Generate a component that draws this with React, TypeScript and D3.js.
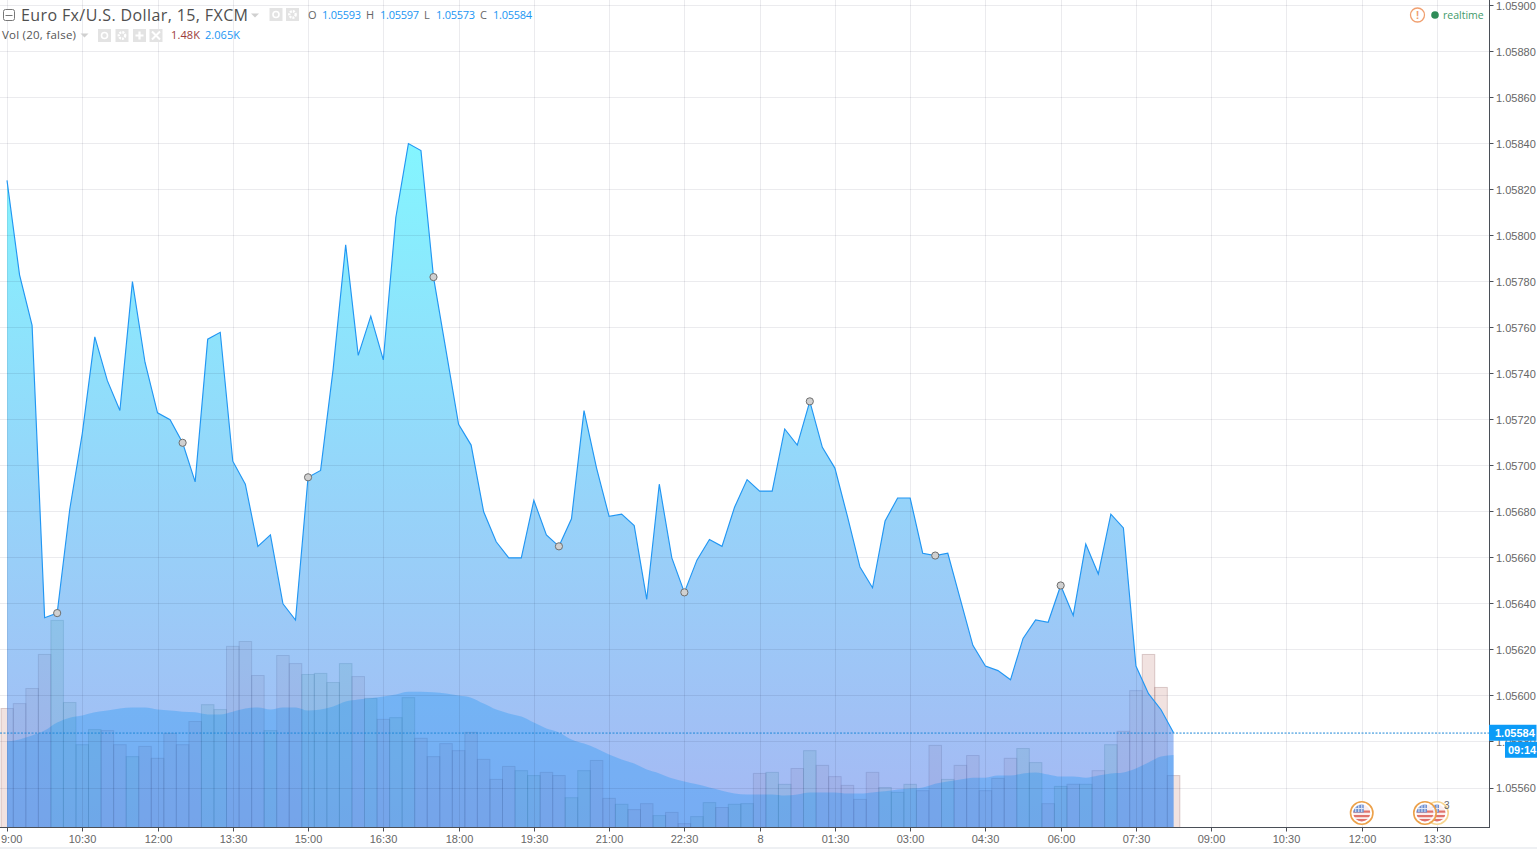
import React from "react";
import * as d3 from "d3";

const closes = [
  1.05824, 1.05783, 1.05761, 1.05634, 1.05636, 1.05681, 1.05714, 1.05756, 1.05737, 1.05724,
  1.0578, 1.05745, 1.05723, 1.0572, 1.0571, 1.05693, 1.05755, 1.05758, 1.05702, 1.05692,
  1.05665, 1.0567, 1.0564, 1.05633, 1.05695, 1.05698, 1.05742, 1.05796, 1.05748, 1.05765,
  1.05746, 1.05808, 1.0584, 1.05837, 1.05782, 1.0575, 1.05718, 1.05709, 1.0568, 1.05667,
  1.0566, 1.0566, 1.05685, 1.0567, 1.05665, 1.05677, 1.05724, 1.05699, 1.05678, 1.05679,
  1.05674, 1.05642, 1.05692, 1.0566, 1.05645, 1.05659, 1.05668, 1.05665, 1.05682, 1.05694,
  1.05689, 1.05689, 1.05716, 1.05709, 1.05728, 1.05708, 1.05699, 1.05678, 1.05656, 1.05647,
  1.05676, 1.05686, 1.05686, 1.05662, 1.05661, 1.05662, 1.05642, 1.05622, 1.05613, 1.05611,
  1.05607, 1.05625, 1.05633, 1.05632, 1.05648, 1.05635, 1.05666, 1.05653, 1.05679, 1.05673,
  1.05613, 1.05601, 1.05594, 1.05584,
];

const volumes = [
  3.39, 3.53, 3.96, 4.93, 5.9, 3.56, 2.36, 2.79, 2.76, 2.36,
  2.02, 2.31, 1.97, 2.68, 2.36, 3.02, 3.5, 3.36, 5.16, 5.3,
  4.33, 2.76, 4.9, 4.67, 4.36, 4.39, 4.13, 4.67, 4.3, 3.68,
  3.08, 3.13, 3.7, 2.54, 2.02, 2.39, 2.19, 2.71, 1.94, 1.37,
  1.74, 1.62, 1.48, 1.57, 1.48, 0.85, 1.62, 1.91, 0.83, 0.66,
  0.51, 0.68, 0.34, 0.43, 0.11, 0.31, 0.71, 0.57, 0.66, 0.68,
  1.54, 1.57, 1.23, 1.68, 2.19, 1.77, 1.45, 1.2, 0.8, 1.57,
  1.14, 1.0, 1.23, 1.05, 2.34, 1.37, 1.77, 2.05, 1.05, 1.4,
  1.97, 2.25, 1.85, 0.68, 1.17, 1.23, 1.23, 1.62, 2.36, 2.74,
  3.9, 4.93, 3.99, 1.48,
];

const volumeMA = [
  2.45, 2.51, 2.62, 2.76, 2.99, 3.13, 3.19, 3.28, 3.33, 3.39,
  3.42, 3.42, 3.36, 3.33, 3.3, 3.28, 3.22, 3.22, 3.3, 3.39,
  3.42, 3.36, 3.42, 3.42, 3.33, 3.36, 3.45, 3.59, 3.65, 3.68,
  3.73, 3.79, 3.87, 3.87, 3.85, 3.82, 3.76, 3.7, 3.53, 3.36,
  3.25, 3.16, 2.99, 2.82, 2.71, 2.51, 2.39, 2.25, 2.08, 1.94,
  1.82, 1.65, 1.54, 1.4, 1.31, 1.23, 1.14, 1.05, 0.97, 0.94,
  0.94, 0.94, 0.91, 0.94, 1.0, 1.0, 1.0, 0.97, 0.97, 1.0,
  1.03, 1.08, 1.11, 1.14, 1.25, 1.31, 1.37, 1.42, 1.42, 1.48,
  1.48, 1.54, 1.57, 1.51, 1.45, 1.45, 1.42, 1.48, 1.54, 1.57,
  1.68, 1.85, 2.02, 2.065,
];

const timeLabels = [
  "9:00", "10:30", "12:00", "13:30", "15:00", "16:30", "18:00", "19:30", "21:00", "22:30",
  "8", "01:30", "03:00", "04:30", "06:00", "07:30", "09:00", "10:30", "12:00", "13:30",
];
const barsPerTick = 6;

const priceTicks = [
  1.059, 1.0588, 1.0586, 1.0584, 1.0582, 1.058, 1.0578, 1.0576, 1.0574, 1.0572, 1.057, 1.0568,
  1.0566, 1.0564, 1.0562, 1.056, 1.0558, 1.0556,
];

const eventMarks = [108, 113, 114];
const lastPrice = 1.05584;
const markerEvery = 10;

const W = 1537;
const H = 849;
const plotRight = 1489.5;
const plotBottom = 827.5;

const x = d3.scaleLinear().domain([0, 114]).range([7, 1437]);
const y = d3.scaleLinear().domain([1.0556, 1.059]).range([788, 5.5]);
const yVol = d3.scaleLinear().domain([0, 1]).range([plotBottom, plotBottom - 35.1]);

const areaPath = d3
  .area<number>()
  .x((_, i) => x(i))
  .y0(plotBottom)
  .y1((d) => y(d))(closes)!;
const linePath = d3
  .line<number>()
  .x((_, i) => x(i))
  .y((d) => y(d))(closes)!;
const maPath = d3
  .area<number>()
  .x((_, i) => x(i))
  .y0(plotBottom)
  .y1((d) => yVol(d))
  .curve(d3.curveMonotoneX)(volumeMA)!;

const axisFont = "'Liberation Sans', Arial, sans-serif";
const headFont = "'Open Sans', 'Noto Sans', sans-serif";
const blue = "#2196f3";

function Bars({ fills, strokes }: { fills: [string, string]; strokes: [string, string] }) {
  return (
    <g>
      {volumes.map((v, i) => {
        const up = i > 0 && closes[i] >= closes[i - 1];
        const half = (x(1) - x(0)) / 2;
        const left = Math.max(x(i) - half, 1);
        return (
          <rect
            key={i}
            x={left}
            y={yVol(v)}
            width={x(i) + half - left}
            height={plotBottom - yVol(v)}
            fill={up ? fills[0] : fills[1]}
            stroke={up ? strokes[0] : strokes[1]}
            strokeWidth={1}
          />
        );
      })}
    </g>
  );
}

function IconBox({ x: bx, y: by, kind }: { x: number; y: number; kind: string }) {
  const s = 13;
  const cx = bx + s / 2;
  const cy = by + s / 2;
  return (
    <g>
      <rect x={bx} y={by} width={s} height={s} fill="#e3e3e3" />
      {kind === "eye" && <circle cx={cx} cy={cy} r={3} fill="none" stroke="#fff" strokeWidth={1.6} />}
      {kind === "gear" && <circle cx={cx} cy={cy} r={3.2} fill="none" stroke="#fff" strokeWidth={2.4} strokeDasharray="2 1" />}
      {kind === "plus" && <path d={`M${cx - 4} ${cy}H${cx + 4}M${cx} ${cy - 4}V${cy + 4}`} stroke="#fff" strokeWidth={2.2} />}
      {kind === "x" && <path d={`M${cx - 4} ${cy - 4}L${cx + 4} ${cy + 4}M${cx + 4} ${cy - 4}L${cx - 4} ${cy + 4}`} stroke="#fff" strokeWidth={2} />}
    </g>
  );
}

function Flag({ cx, ring, id, wash }: { cx: number; ring: string; id: string; wash: number }) {
  const cy = 813;
  return (
    <g>
      <clipPath id={id}>
        <circle cx={cx} cy={cy} r={8.5} />
      </clipPath>
      <circle cx={cx} cy={cy} r={11.2} fill="#fff" fillOpacity={wash} stroke={ring} strokeWidth={1.6} />
      <g clipPath={`url(#${id})`}>
        <rect x={cx - 9} y={cy - 9} width={18} height={18} fill="#fbeeee" />
        <rect x={cx - 9} y={cy - 2.5} width={18} height={2.2} fill="#e0736c" />
        <rect x={cx - 9} y={cy + 2} width={18} height={2.2} fill="#e0736c" />
        <rect x={cx - 9} y={cy + 6} width={18} height={3} fill="#e0736c" />
        <rect x={cx - 9} y={cy - 9} width={11} height={8.5} fill="#6f8fd0" />
        <path d={`M${cx - 6} ${cy - 9}V${cy - 1}M${cx - 3} ${cy - 9}V${cy - 1}M${cx} ${cy - 9}V${cy - 1}M${cx - 9} ${cy - 4.5}H${cx + 2}`} stroke="#dfe7f7" strokeWidth={1} />
      </g>
    </g>
  );
}

export default function App() {
  return (
    <svg
      width={W}
      height={H}
      viewBox={`0 0 ${W} ${H}`}
      style={{ position: "absolute", left: 0, top: 0, background: "#fff" }}
    >
      <defs>
        <linearGradient id="priceFill" gradientUnits="userSpaceOnUse" x1={0} x2={0} y1={144} y2={plotBottom}>
          <stop offset="0" stopColor="rgb(101,243,255)" stopOpacity={0.8} />
          <stop offset="0.5" stopColor="rgb(123,202,248)" stopOpacity={0.8} />
          <stop offset="1" stopColor="rgb(143,166,240)" stopOpacity={0.8} />
        </linearGradient>
        <clipPath id="underPrice">
          <path d={areaPath} />
        </clipPath>
      </defs>

      <Bars
        fills={["rgba(70,170,100,0.28)", "rgba(172,82,70,0.17)"]}
        strokes={["rgba(40,110,90,0.25)", "rgba(110,50,50,0.22)"]}
      />

      <path d={areaPath} fill="url(#priceFill)" />
      <path d={maPath} fill="rgba(33,150,243,0.34)" />

      <g clipPath="url(#underPrice)">
        <Bars
          fills={["rgba(60,170,130,0.045)", "rgba(130,70,110,0.03)"]}
          strokes={["rgba(30,80,110,0.08)", "rgba(40,60,110,0.08)"]}
        />
      </g>

      {priceTicks.map((p) => (
        <line key={p} x1={0} x2={plotRight} y1={Math.floor(y(p)) + 0.5} y2={Math.floor(y(p)) + 0.5} stroke="rgba(0,0,40,0.08)" />
      ))}
      {timeLabels.map((_, i) => {
        const tx = Math.round(x(i * barsPerTick)) + 0.5;
        return <line key={i} x1={tx} x2={tx} y1={0} y2={plotBottom} stroke="rgba(0,0,40,0.08)" />;
      })}

      <path d={linePath} fill="none" stroke={blue} strokeWidth={1.15} strokeLinejoin="miter" />

      {closes.map((c, i) =>
        i % markerEvery === 4 ? (
          <circle key={i} cx={x(i)} cy={y(c)} r={3.6} fill="#d0d0d0" stroke="#6f6f6f" strokeWidth={1} />
        ) : null
      )}

      <line x1={0} x2={plotRight} y1={y(lastPrice) + 0.3} y2={y(lastPrice) + 0.3} stroke="#1e88d8" strokeWidth={1} strokeDasharray="2 1.5" />

      {/* axes */}
      <line x1={0} x2={plotRight} y1={plotBottom} y2={plotBottom} stroke="#4a4f57" strokeWidth={1} />
      <line x1={plotRight} x2={plotRight} y1={0} y2={plotBottom + 0.5} stroke="#4a4f57" strokeWidth={1} />
      {timeLabels.map((t, i) => {
        const tx = Math.round(x(i * barsPerTick)) + 0.5;
        return (
          <g key={i}>
            <line x1={tx} x2={tx} y1={plotBottom} y2={plotBottom + 4} stroke="#4a4f57" />
            <text
              x={i === 0 ? 1 : tx}
              y={843}
              textAnchor={i === 0 ? "start" : "middle"}
              fontFamily={axisFont}
              fontSize={11}
              fill="#666"
            >
              {t}
            </text>
          </g>
        );
      })}
      {priceTicks.map((p) => (
        <g key={p}>
          <line x1={plotRight} x2={plotRight + 4} y1={Math.floor(y(p)) + 0.5} y2={Math.floor(y(p)) + 0.5} stroke="#4a4f57" />
          <text x={1496} y={y(p) + 4} fontFamily={axisFont} fontSize={11} fill="#666">
            {p.toFixed(5)}
          </text>
        </g>
      ))}

      <rect x={plotRight - 0.5} y={y(lastPrice) - 8} width={W - plotRight} height={16} fill="#0c9bf7" />
      <text x={1495} y={y(lastPrice) + 4} fontFamily={axisFont} fontSize={11} fontWeight={700} fill="#fff">
        {lastPrice.toFixed(5)}
      </text>
      <rect x={1505} y={y(lastPrice) + 9} width={32} height={16} fill="#0c9bf7" />
      <text x={1508} y={y(lastPrice) + 21} fontFamily={axisFont} fontSize={11} fontWeight={700} fill="#fff">
        09:14
      </text>

      {/* events */}
      <Flag cx={x(eventMarks[2])} ring="#f7d591" id="f3" wash={0.8} />
      <Flag cx={x(eventMarks[1]) + 0.5} ring="#eca14a" id="f2" wash={0.8} />
      <Flag cx={x(eventMarks[0])} ring="#eca14a" id="f1" wash={1} />
      <text x={1444} y={809} fontFamily={axisFont} fontSize={10} fill="#666">
        3
      </text>

      {/* header */}
      <rect x={3.5} y={9.5} width={11} height={11} rx={2} fill="#fff" stroke="#777" />
      <line x1={5.5} x2={12.5} y1={15.5} y2={15.5} stroke="#777" />
      <text x={21} y={21} fontFamily={headFont} fontSize={16} fill="#4f4f4f" textLength={227} lengthAdjust="spacing">
        Euro Fx/U.S. Dollar, 15, FXCM
      </text>
      <path d="M251 13.5h8l-4 4z" fill="#d0d0d0" />
      <IconBox x={269.5} y={8} kind="eye" />
      <IconBox x={286} y={8} kind="gear" />
      {[
        ["O", 308, "1.05593", 322],
        ["H", 366, "1.05597", 380],
        ["L", 424, "1.05573", 436],
        ["C", 480, "1.05584", 493],
      ].map(([lab, lx, val, vx]) => (
        <g key={lab as string} fontFamily={headFont} fontSize={11}>
          <text x={lx as number} y={19} fill="#666">
            {lab}
          </text>
          <text x={vx as number} y={19} fill={blue} textLength={39}>
            {val}
          </text>
        </g>
      ))}
      <text x={2} y={39} fontFamily={headFont} fontSize={11.5} fill="#555" textLength={74}>
        Vol (20, false)
      </text>
      <path d="M80.5 33.5h8l-4 4z" fill="#d0d0d0" />
      <IconBox x={98} y={29} kind="eye" />
      <IconBox x={115.5} y={29} kind="gear" />
      <IconBox x={133} y={29} kind="plus" />
      <IconBox x={149.5} y={29} kind="x" />
      <text x={171} y={39} fontFamily={headFont} fontSize={11} fill="#9b3b3b" textLength={29}>
        1.48K
      </text>
      <text x={205} y={39} fontFamily={headFont} fontSize={11} fill={blue} textLength={35}>
        2.065K
      </text>

      {/* realtime */}
      <circle cx={1417.5} cy={15} r={7} fill="#fff" stroke="#f0a070" strokeWidth={1.3} />
      <text x={1417.5} y={19} textAnchor="middle" fontFamily={axisFont} fontSize={11} fontWeight={700} fill="#f0a070">
        !
      </text>
      <circle cx={1435} cy={15} r={3.8} fill="#2e8b57" />
      <text x={1443} y={18.5} fontFamily={headFont} fontSize={10.5} fill="#3f9a6a">
        realtime
      </text>

      <rect x={0} y={847} width={W} height={2} fill="#eef0f3" />
    </svg>
  );
}
